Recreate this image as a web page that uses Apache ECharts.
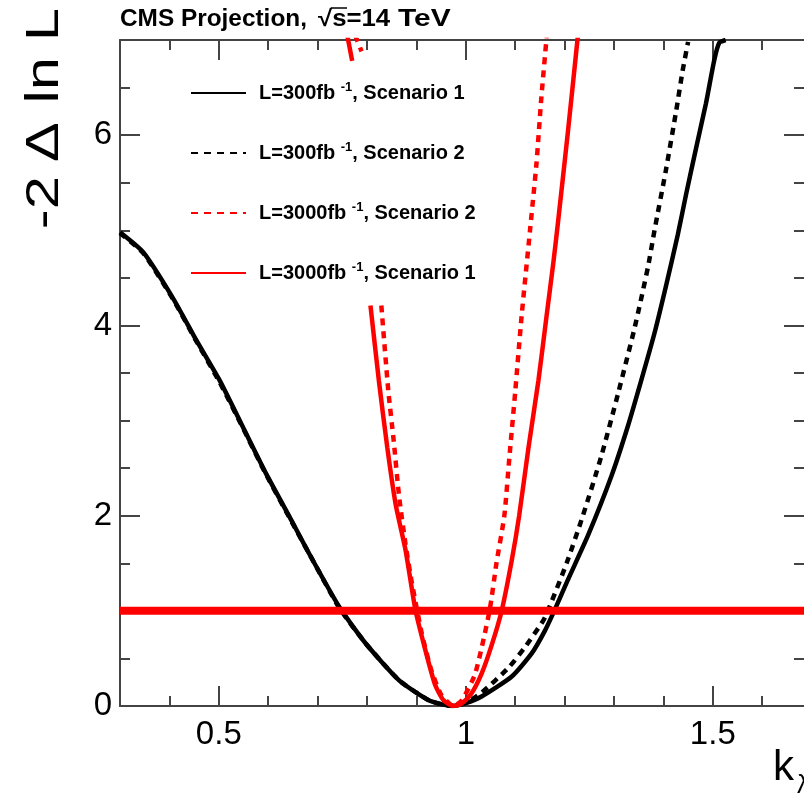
<!DOCTYPE html>
<html>
<head>
<meta charset="utf-8">
<script src="https://cdn.jsdelivr.net/npm/echarts@6/dist/echarts.min.js"></script>
<style>
html,body{margin:0;padding:0;background:#fff;overflow:hidden;}
#c{width:804px;height:797px;}
</style>
</head>
<body>
<div id="c"></div>
<script>
// ---- data ----
const xTickLabels = [0.5, 1, 1.5];
const xMinorTicks = [0.3, 0.4, 0.5, 0.6, 0.7, 0.8, 0.9, 1.0, 1.1, 1.2, 1.3, 1.4, 1.5, 1.6];
const yTickLabels = [0, 2, 4, 6];
const yMinorTicks = [0, 0.5, 1, 1.5, 2, 2.5, 3, 3.5, 4, 4.5, 5, 5.5, 6, 6.5, 7];

const seriesLumi = ['300', '300', '3000', '3000'];
const seriesScenario = ['1', '2', '2', '1'];

// L=300 fb-1, Scenario 1 (black solid)
const b1_k = [0.300,0.347,0.408,0.455,0.502,0.549,0.596,0.643,0.683,0.744,0.797,0.865,0.925,0.950,0.972,1.000,1.032,1.093,1.133,1.160,1.180,1.207,1.248,1.295,1.328,1.355,1.382,1.405,1.429,1.446,1.466,1.486,1.503,1.513,1.526];
const b1_y = [4.98,4.77,4.28,3.84,3.42,2.93,2.44,1.99,1.60,1.04,0.66,0.27,0.06,0.02,0.00,0.03,0.10,0.31,0.55,0.79,1.01,1.33,1.80,2.42,2.94,3.42,3.92,4.41,4.95,5.38,5.86,6.33,6.79,6.97,7.00];

// L=300 fb-1, Scenario 2 (black dashed)
const b2_k = [0.300,0.347,0.408,0.455,0.502,0.549,0.596,0.643,0.683,0.744,0.797,0.865,0.925,0.950,0.975,1.003,1.032,1.086,1.120,1.157,1.170,1.204,1.237,1.274,1.308,1.342,1.369,1.382,1.405,1.426,1.439,1.450];
const b2_y = [4.97,4.76,4.27,3.83,3.40,2.92,2.43,1.98,1.60,1.03,0.66,0.27,0.06,0.02,0.00,0.04,0.14,0.40,0.62,0.90,1.05,1.50,2.00,2.62,3.28,3.98,4.62,5.00,5.63,6.26,6.68,6.98];

// L=3000 fb-1, Scenario 2 (red dashed)
const r2_k = [0.776,0.789,0.800,0.829,0.843,0.854,0.865,0.878,0.891,0.911,0.930,0.950,0.975,0.992,1.019,1.048,1.062,1.078,1.088,1.100,1.113,1.130,1.143,1.153,1.164];
const r2_y = [7.05,6.88,null,4.21,3.32,2.79,2.20,1.70,1.29,0.76,0.38,0.12,0.00,0.06,0.34,1.00,1.50,2.00,2.60,3.30,4.10,5.00,5.70,6.40,7.05];

// L=3000 fb-1, Scenario 1 (red solid)
const r1_k = [0.760,0.770,0.790,0.807,0.824,0.841,0.858,0.878,0.898,0.918,0.938,0.955,0.975,0.990,1.010,1.032,1.053,1.073,1.093,1.108,1.127,1.147,1.164,1.177,1.187,1.207,1.227];
const r1_y = [7.05,6.78,null,4.21,3.42,2.72,2.12,1.64,1.01,0.59,0.22,0.06,0.00,0.02,0.12,0.34,0.65,1.01,1.53,2.00,2.72,3.42,4.12,4.65,5.10,6.05,7.05];

// reference line at -2 Delta ln L = 1
const ref_k = [0.3, 1.7];
const ref_y = [1, 1];

// ---- build ----
const zip = (xs, ys) => xs.map((x, i) => [x, ys[i] === null ? null : ys[i]]);
const names = seriesLumi.map((l, i) => 'L=' + l + 'fb-1, Scenario ' + seriesScenario[i]);
const FONT = 'Liberation Sans, Arial, Helvetica, sans-serif';
const AX = '#444';
// visible window ends at the canvas edge (frame of the original continues past it)
const X_MIN = 0.3, X_MAX = 1.6846;

function lineSeries(name, data, color, dashed) {
  return {
    name: name, type: 'line', data: data, symbol: 'none', showSymbol: false,
    smooth: 0.2, connectNulls: false, clip: true,
    lineStyle: { color: color, width: 4.5, type: dashed ? [7, 6] : 'solid' },
    itemStyle: { color: color }, z: 3
  };
}

const tickStyle = { color: AX, width: 2 };
function xAx(pos, major, withLine, withLabel) {
  return {
    type: 'value', min: X_MIN, max: X_MAX, gridIndex: 0, position: pos,
    splitLine: { show: false },
    axisLine: { show: withLine, onZero: false, lineStyle: { color: AX, width: 2 } },
    axisTick: { show: true, inside: true, length: major ? 20 : 10, customValues: major ? xTickLabels : xMinorTicks, lineStyle: tickStyle },
    axisLabel: withLabel ? { show: true, customValues: xTickLabels, margin: 12, color: '#000', fontSize: 33, fontFamily: FONT } : { show: false }
  };
}
function yAx(pos, major, withLine, withLabel) {
  return {
    type: 'value', min: 0, max: 7, gridIndex: 0, position: pos,
    splitLine: { show: false },
    axisLine: { show: withLine, onZero: false, lineStyle: { color: AX, width: 2 } },
    axisTick: { show: true, inside: true, length: major ? 20 : 10, customValues: major ? yTickLabels : yMinorTicks, lineStyle: tickStyle },
    axisLabel: withLabel ? { show: true, customValues: yTickLabels, margin: 8, color: '#000', fontSize: 33, fontFamily: FONT } : { show: false }
  };
}

const option = {
  animation: false,
  backgroundColor: '#fff',
  grid: { left: 120, top: 40, right: 0, bottom: 91, containLabel: false },
  xAxis: [
    xAx('bottom', false, true, true),
    xAx('bottom', true, false, false),
    xAx('top', false, true, false),
    xAx('top', true, false, false)
  ],
  yAxis: [
    yAx('left', false, true, true),
    yAx('left', true, false, false),
    yAx('right', false, false, false),
    yAx('right', true, false, false)
  ],
  legend: {
    show: true, orient: 'vertical', left: 190, top: 81, padding: 0,
    itemWidth: 55, itemHeight: 22, itemGap: 38,
    data: names,
    itemStyle: { opacity: 0 },
    formatter: function (name) {
      const i = names.indexOf(name);
      return '{t|L=' + seriesLumi[i] + 'fb }{s|-1}{t|, Scenario ' + seriesScenario[i] + '}';
    },
    textStyle: {
      padding: [0, 0, 0, 8],
      rich: {
        t: { fontSize: 20, fontWeight: 'bold', fontFamily: FONT, color: '#000', lineHeight: 24 },
        s: { fontSize: 13, fontWeight: 'bold', fontFamily: FONT, color: '#000', verticalAlign: 'top' }
      }
    }
  },
  graphic: [
    { type: 'text', x: 120, y: 20, scaleX: 1.06, style: { text: 'CMS Projection,', fontSize: 23, fontWeight: 'bold', fontFamily: FONT, fill: '#000', align: 'left', verticalAlign: 'middle' } },
    { type: 'text', x: 318, y: 20, scaleX: 1.12, style: { text: '√s=14', fontSize: 23, fontWeight: 'bold', fontFamily: FONT, fill: '#000', align: 'left', verticalAlign: 'middle' } },
    { type: 'text', x: 398, y: 20, scaleX: 1.3, style: { text: 'TeV', fontSize: 23, fontWeight: 'bold', fontFamily: FONT, fill: '#000', align: 'left', verticalAlign: 'middle' } },
    { type: 'line', shape: { x1: 331, y1: 8, x2: 347, y2: 8 }, style: { stroke: '#000', lineWidth: 1.5 } },
    { type: 'text', x: 45, y: 8, rotation: Math.PI / 2, scaleX: 1.3, style: { text: 'L', fontSize: 46, fontFamily: FONT, fill: '#000', align: 'right', verticalAlign: 'middle' } },
    { type: 'text', x: 45, y: 57, rotation: Math.PI / 2, scaleX: 1.3, style: { text: 'ln', fontSize: 46, fontFamily: FONT, fill: '#000', align: 'right', verticalAlign: 'middle' } },
    { type: 'text', x: 45, y: 122, rotation: Math.PI / 2, scaleX: 1.3, style: { text: 'Δ', fontSize: 46, fontFamily: FONT, fill: '#000', align: 'right', verticalAlign: 'middle' } },
    { type: 'text', x: 45, y: 176, rotation: Math.PI / 2, scaleX: 1.3, style: { text: '-2', fontSize: 46, fontFamily: FONT, fill: '#000', align: 'right', verticalAlign: 'middle' } },
    { type: 'text', x: 773, y: 768, style: { text: 'k', fontSize: 42, fontFamily: FONT, fill: '#000', align: 'left', verticalAlign: 'middle' } },
    { type: 'text', x: 797, y: 786, style: { text: 'λ', fontSize: 26, fontFamily: FONT, fill: '#000', align: 'left', verticalAlign: 'middle' } }
  ],
  series: [
    lineSeries(names[0], zip(b1_k, b1_y), '#000000', false),
    lineSeries(names[1], zip(b2_k, b2_y), '#000000', true),
    lineSeries(names[2], zip(r2_k, r2_y), '#ff0000', true),
    lineSeries(names[3], zip(r1_k, r1_y), '#ff0000', false),
    {
      name: 'ref', type: 'line', data: zip(ref_k, ref_y), symbol: 'none', showSymbol: false,
      lineStyle: { color: '#ff0000', width: 8 }, z: 5, silent: true
    }
  ]
};

const chart = echarts.init(document.getElementById('c'), null, { renderer: 'canvas' });
chart.setOption(option);
</script>
</body>
</html>
